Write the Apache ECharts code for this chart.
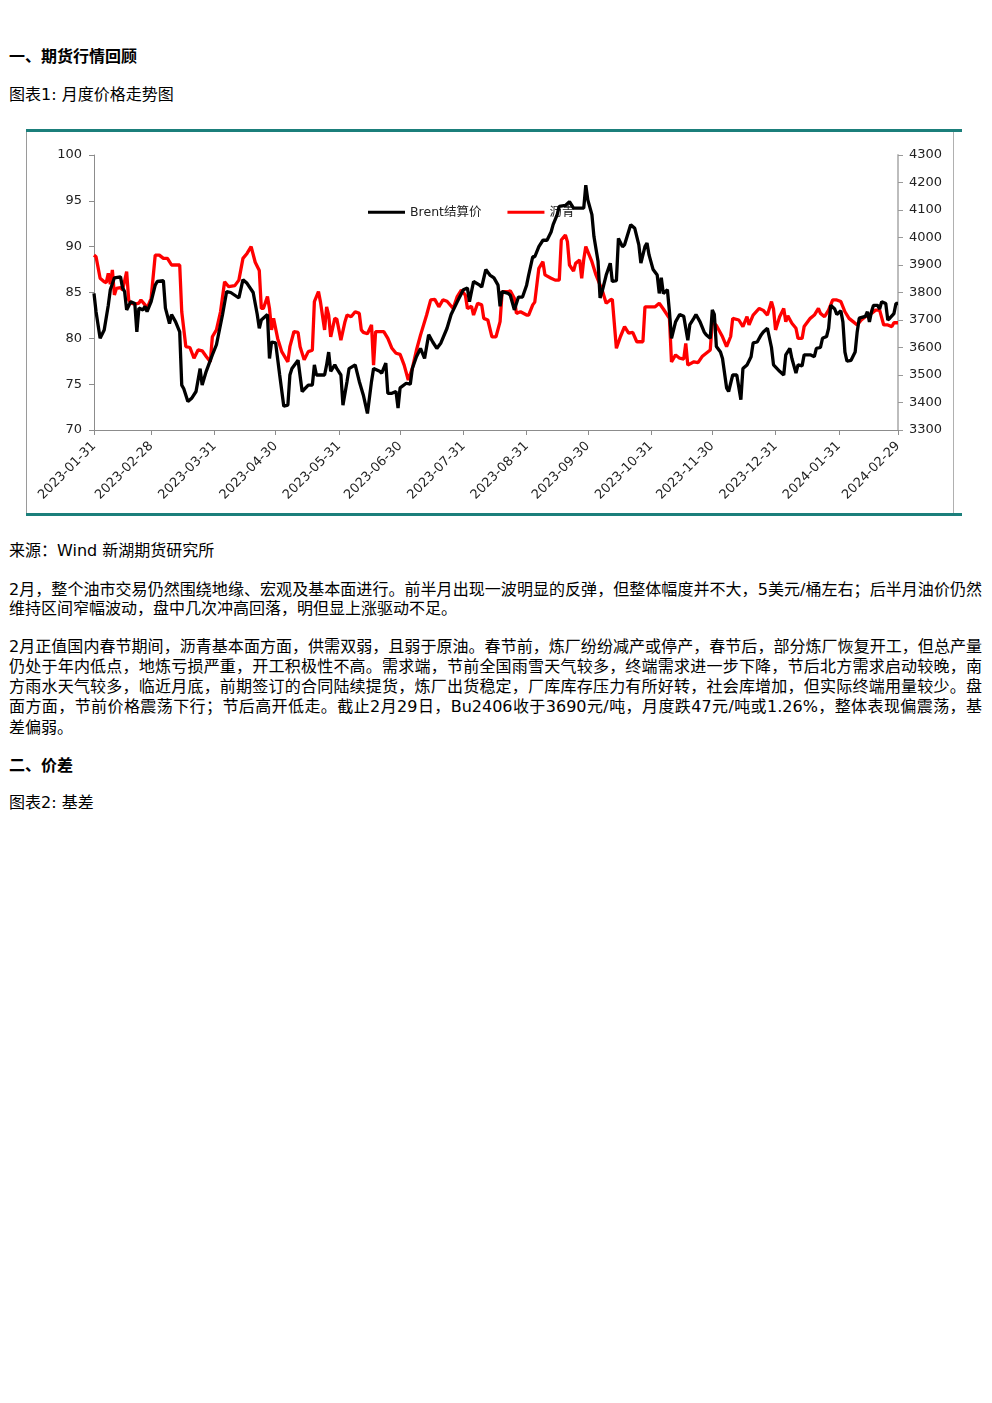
<!DOCTYPE html>
<html><head><meta charset="utf-8">
<script src="https://cdn.jsdelivr.net/npm/echarts@6/dist/echarts.min.js"></script>
<style>
body{margin:0;background:#fff;}
#page{position:relative;width:992px;height:1403px;font-family:"DejaVu Sans","Noto Sans CJK SC",sans-serif;color:#000;}
.t{position:absolute;left:9px;font-size:16px;line-height:20px;white-space:nowrap;}
.j{position:absolute;left:9px;width:973px;font-size:16px;line-height:20px;text-align:justify;text-align-last:justify;}
.b{font-weight:bold;}
#box{position:absolute;left:26px;top:129px;width:936px;height:381px;border-top:3px solid #1b7f7b;border-bottom:3px solid #1b7f7b;}
#lb{position:absolute;left:26px;top:132px;width:1px;height:381px;background:#9a9a9a;}
#rb{position:absolute;left:953px;top:132px;width:1px;height:381px;background:#b0b0b0;}
#chart{position:absolute;left:27px;top:132px;width:926px;height:381px;}
</style></head>
<body><div id="page">
<div class="t b" style="top:47px">一、期货行情回顾</div>
<div class="t" style="top:85px">图表1: 月度价格走势图</div>
<div id="box"></div><div id="lb"></div><div id="rb"></div>
<div id="chart"></div>
<div class="t" style="top:541px">来源：Wind 新湖期货研究所</div>
<div class="j" style="top:580px">2月，整个油市交易仍然围绕地缘、宏观及基本面进行。前半月出现一波明显的反弹，但整体幅度并不大，5美元/桶左右；后半月油价仍然</div>
<div class="t" style="top:599px">维持区间窄幅波动，盘中几次冲高回落，明但显上涨驱动不足。</div>
<div class="j" style="top:637px">2月正值国内春节期间，沥青基本面方面，供需双弱，且弱于原油。春节前，炼厂纷纷减产或停产，春节后，部分炼厂恢复开工，但总产量</div>
<div class="j" style="top:657px">仍处于年内低点，地炼亏损严重，开工积极性不高。需求端，节前全国雨雪天气较多，终端需求进一步下降，节后北方需求启动较晚，南</div>
<div class="j" style="top:677px">方雨水天气较多，临近月底，前期签订的合同陆续提货，炼厂出货稳定，厂库库存压力有所好转，社会库增加，但实际终端用量较少。盘</div>
<div class="j" style="top:697px">面方面，节前价格震荡下行；节后高开低走。截止2月29日，Bu2406收于3690元/吨，月度跌47元/吨或1.26%，整体表现偏震荡，基</div>
<div class="t" style="top:718px">差偏弱。</div>
<div class="t b" style="top:756px">二、价差</div>
<div class="t" style="top:793px">图表2: 基差</div>
</div>
<script>
const seriesNames = ['Brent结算价', '沥青'];
const xTickLabels = ['2023-01-31','2023-02-28','2023-03-31','2023-04-30','2023-05-31','2023-06-30','2023-07-31','2023-08-31','2023-09-30','2023-10-31','2023-11-30','2023-12-31','2024-01-31','2024-02-29'];
const leftTicks = [70, 100, 5];
const rightTicks = [3300, 4300, 100];

const brentDates = ['2023-01-31','2023-02-01','2023-02-03','2023-02-05','2023-02-07','2023-02-08','2023-02-10','2023-02-13','2023-02-14','2023-02-15','2023-02-16','2023-02-18','2023-02-20','2023-02-21','2023-02-22','2023-02-24','2023-02-25','2023-02-26','2023-02-28',
'2023-03-02','2023-03-03','2023-03-06','2023-03-07','2023-03-09','2023-03-10','2023-03-12','2023-03-14','2023-03-15','2023-03-16','2023-03-18','2023-03-20','2023-03-22','2023-03-24','2023-03-25','2023-03-27','2023-03-30',
'2023-04-01','2023-04-04','2023-04-06','2023-04-08','2023-04-12','2023-04-14','2023-04-16','2023-04-19','2023-04-21','2023-04-22','2023-04-23','2023-04-26','2023-04-27','2023-04-28','2023-04-30',
'2023-05-02','2023-05-04','2023-05-06','2023-05-07','2023-05-08','2023-05-11','2023-05-13','2023-05-16','2023-05-18','2023-05-19','2023-05-20','2023-05-24','2023-05-25','2023-05-26','2023-05-27','2023-05-29','2023-05-30',
'2023-06-01','2023-06-02','2023-06-04','2023-06-05','2023-06-08','2023-06-10','2023-06-12','2023-06-14','2023-06-16','2023-06-17','2023-06-20','2023-06-21','2023-06-23','2023-06-24','2023-06-26','2023-06-28','2023-06-29','2023-06-30',
'2023-07-03','2023-07-05','2023-07-06','2023-07-08','2023-07-10','2023-07-12','2023-07-14','2023-07-16','2023-07-18','2023-07-20','2023-07-23','2023-07-25','2023-07-28','2023-07-31',
'2023-08-02','2023-08-03','2023-08-05','2023-08-08','2023-08-09','2023-08-11','2023-08-13','2023-08-15','2023-08-17','2023-08-18','2023-08-19','2023-08-22','2023-08-23','2023-08-25','2023-08-27','2023-08-29','2023-08-31',
'2023-09-01','2023-09-03','2023-09-04','2023-09-06','2023-09-08','2023-09-10','2023-09-12','2023-09-13','2023-09-15','2023-09-16','2023-09-19','2023-09-21','2023-09-23','2023-09-26','2023-09-28','2023-09-29','2023-09-30',
'2023-10-02','2023-10-03','2023-10-05','2023-10-06','2023-10-07','2023-10-09','2023-10-11','2023-10-12','2023-10-14','2023-10-15','2023-10-17','2023-10-18','2023-10-21','2023-10-23','2023-10-25','2023-10-26','2023-10-28','2023-10-29','2023-10-30',
'2023-11-01','2023-11-03','2023-11-04','2023-11-05','2023-11-06','2023-11-08','2023-11-09','2023-11-10','2023-11-12','2023-11-14','2023-11-16','2023-11-18','2023-11-19','2023-11-21','2023-11-22','2023-11-24','2023-11-26','2023-11-27','2023-11-29','2023-11-30',
'2023-12-01','2023-12-02','2023-12-04','2023-12-05','2023-12-07','2023-12-08','2023-12-10','2023-12-12','2023-12-14','2023-12-15','2023-12-17','2023-12-19','2023-12-20','2023-12-22','2023-12-24','2023-12-25','2023-12-27','2023-12-29','2023-12-30',
'2024-01-02','2024-01-04','2024-01-05','2024-01-07','2024-01-08','2024-01-10','2024-01-11','2024-01-13','2024-01-14','2024-01-17','2024-01-19','2024-01-20','2024-01-22','2024-01-23','2024-01-25','2024-01-26','2024-01-27','2024-01-29','2024-01-30',
'2024-02-01','2024-02-02','2024-02-03','2024-02-04','2024-02-06','2024-02-08','2024-02-09','2024-02-10','2024-02-13','2024-02-14','2024-02-15','2024-02-16','2024-02-17','2024-02-19','2024-02-20','2024-02-21','2024-02-23','2024-02-24','2024-02-25','2024-02-27','2024-02-28','2024-02-29'];
const brentValues = [84.9,82.9,80.0,80.9,83.6,85.3,86.6,86.7,85.5,85.1,83.1,84.0,83.8,80.7,83.3,83.1,83.5,82.9,84.0,
85.8,86.2,86.3,83.3,81.6,82.6,81.8,80.7,74.9,74.5,73.1,73.5,74.2,76.7,74.9,76.4,78.2,
79.3,82.6,85.1,85.0,84.4,86.4,86.0,85.0,82.6,81.1,82.0,82.6,77.8,79.6,79.5,
76.0,72.6,72.7,76.0,76.7,77.6,74.2,74.9,74.9,77.1,76.0,76.0,77.1,78.5,76.4,77.1,76.7,
76.0,72.7,75.3,76.7,77.1,75.3,73.8,71.8,75.3,76.7,76.4,76.2,77.3,74.0,74.0,74.2,72.4,74.6,
75.1,75.0,76.7,78.0,78.9,77.8,80.4,79.6,78.9,79.5,81.1,82.6,84.0,85.3,
85.5,84.0,86.2,85.8,85.6,87.5,86.9,86.6,85.8,83.5,85.1,84.9,84.7,83.1,84.5,84.5,85.8,
86.9,88.9,88.9,90.0,90.7,90.7,91.6,92.4,93.5,94.4,94.5,94.9,94.2,94.2,94.2,96.7,95.1,
93.5,91.1,88.4,84.4,85.1,86.9,88.2,86.2,86.3,90.9,90.0,90.2,92.4,92.0,90.2,88.2,90.0,90.4,89.1,
87.5,86.9,84.9,86.6,84.9,85.3,82.9,80.0,81.8,82.6,82.4,79.8,81.5,82.2,82.6,81.8,80.7,80.4,80.0,83.1,
82.6,79.1,78.5,77.8,74.6,74.2,76.0,76.0,73.3,76.7,77.1,78.0,79.5,79.6,80.4,80.7,81.1,79.0,77.1,
76.4,76.0,78.2,78.9,77.8,76.2,77.1,77.0,78.2,78.2,78.0,78.9,79.0,80.0,80.2,81.1,83.6,83.2,82.6,
83.0,81.8,78.5,77.5,77.6,78.5,80.7,82.2,82.4,82.9,81.8,82.9,83.6,83.6,83.2,84.0,83.8,82.0,82.2,82.7,83.8,83.8];

const asphaltDates = ['2023-01-31','2023-02-01','2023-02-03','2023-02-05','2023-02-06','2023-02-07','2023-02-08','2023-02-09','2023-02-10','2023-02-11','2023-02-13','2023-02-14','2023-02-16','2023-02-17','2023-02-18','2023-02-20','2023-02-22','2023-02-23','2023-02-25','2023-02-26','2023-02-28',
'2023-03-02','2023-03-04','2023-03-06','2023-03-08','2023-03-10','2023-03-12','2023-03-14','2023-03-15','2023-03-17','2023-03-19','2023-03-21','2023-03-23','2023-03-25','2023-03-27','2023-03-29','2023-03-30',
'2023-04-01','2023-04-03','2023-04-05','2023-04-07','2023-04-10','2023-04-12','2023-04-14','2023-04-16','2023-04-18','2023-04-20','2023-04-22','2023-04-23','2023-04-24','2023-04-26','2023-04-27','2023-04-28','2023-04-29',
'2023-05-01','2023-05-03','2023-05-06','2023-05-07','2023-05-09','2023-05-11','2023-05-12','2023-05-14','2023-05-16','2023-05-18','2023-05-19','2023-05-21','2023-05-22','2023-05-24','2023-05-25','2023-05-26','2023-05-27','2023-05-29','2023-05-30',
'2023-06-01','2023-06-03','2023-06-04','2023-06-06','2023-06-08','2023-06-10','2023-06-11','2023-06-12','2023-06-14','2023-06-16','2023-06-17','2023-06-18','2023-06-20','2023-06-22','2023-06-24','2023-06-26','2023-06-28','2023-06-30',
'2023-07-02','2023-07-04','2023-07-06','2023-07-08','2023-07-10','2023-07-13','2023-07-15','2023-07-17','2023-07-19','2023-07-21','2023-07-23','2023-07-26','2023-07-28','2023-07-30',
'2023-08-01','2023-08-02','2023-08-04','2023-08-05','2023-08-07','2023-08-09','2023-08-10','2023-08-12','2023-08-14','2023-08-16','2023-08-18','2023-08-19','2023-08-22','2023-08-23','2023-08-25','2023-08-26','2023-08-28','2023-08-31',
'2023-09-01','2023-09-03','2023-09-04','2023-09-06','2023-09-08','2023-09-09','2023-09-12','2023-09-14','2023-09-16','2023-09-17','2023-09-19','2023-09-20','2023-09-21','2023-09-23','2023-09-24','2023-09-26','2023-09-27','2023-09-28','2023-09-29',
'2023-10-02','2023-10-04','2023-10-07','2023-10-09','2023-10-11','2023-10-12','2023-10-14','2023-10-16','2023-10-18','2023-10-20','2023-10-22','2023-10-24','2023-10-27','2023-10-28','2023-10-31',
'2023-11-02','2023-11-04','2023-11-06','2023-11-09','2023-11-10','2023-11-12','2023-11-14','2023-11-16','2023-11-17','2023-11-18','2023-11-21','2023-11-23','2023-11-25','2023-11-27','2023-11-29','2023-11-30',
'2023-12-02','2023-12-05','2023-12-07','2023-12-09','2023-12-10','2023-12-13','2023-12-15','2023-12-17','2023-12-18','2023-12-20','2023-12-23','2023-12-25','2023-12-27','2023-12-29','2023-12-30','2023-12-31',
'2024-01-02','2024-01-04','2024-01-05','2024-01-06','2024-01-08','2024-01-10','2024-01-11','2024-01-13','2024-01-14','2024-01-17','2024-01-19','2024-01-21','2024-01-22','2024-01-24','2024-01-26','2024-01-28','2024-01-30',
'2024-02-01','2024-02-03','2024-02-05','2024-02-07','2024-02-09','2024-02-11','2024-02-13','2024-02-16','2024-02-18','2024-02-20','2024-02-22','2024-02-24','2024-02-26','2024-02-27','2024-02-29'];
const asphaltValues = [3936,3930,3852,3839,3836,3870,3830,3882,3791,3815,3818,3809,3876,3773,3761,3758,3761,3773,3755,3742,3779,
3936,3936,3924,3924,3900,3900,3900,3730,3603,3600,3561,3591,3588,3567,3548,3639,
3664,3730,3839,3821,3825,3845,3924,3942,3967,3910,3880,3742,3742,3785,3742,3664,3706,
3633,3585,3548,3603,3658,3655,3603,3555,3585,3590,3767,3803,3765,3664,3748,3718,3639,3706,3703,
3627,3694,3718,3712,3730,3724,3664,3655,3650,3682,3536,3658,3658,3658,3633,3597,3579,3575,
3536,3482,3524,3590,3645,3718,3773,3775,3748,3773,3768,3742,3785,3809,
3790,3742,3750,3718,3761,3755,3706,3700,3639,3639,3694,3803,3803,3806,3779,3724,3730,3718,
3718,3755,3765,3888,3912,3864,3852,3845,3845,3991,4009,3985,3900,3878,3906,3918,3852,3920,3967,
3912,3864,3809,3761,3773,3775,3597,3640,3676,3652,3655,3621,3621,3748,3748,
3748,3761,3740,3706,3548,3573,3561,3558,3615,3536,3548,3545,3567,3579,3591,3694,
3680,3639,3603,3640,3706,3700,3676,3712,3682,3718,3742,3735,3718,3767,3740,3664,
3712,3742,3694,3715,3688,3670,3633,3633,3676,3706,3718,3742,3724,3712,3736,3773,3773,
3767,3730,3706,3694,3682,3700,3712,3724,3736,3736,3682,3682,3676,3690,3690];

const toTs = d => Date.parse(d);
const fmt = v => new Date(v).toISOString().slice(0, 10);
const tickTs = xTickLabels.map(toTs);
const brentData = brentDates.map((d, i) => [toTs(d), brentValues[i]]);
const asphaltData = asphaltDates.map((d, i) => [toTs(d), asphaltValues[i]]);

const chart = echarts.init(document.getElementById('chart'), null, {renderer: 'canvas'});
const font = '"DejaVu Sans","Noto Sans CJK SC",sans-serif';
chart.setOption({
  animation: false,
  textStyle: {fontFamily: font},
  legend: {
    left: 336, top: 69, z: 1, icon: 'rect', itemWidth: 37, itemHeight: 3, itemGap: 26,
    textStyle: {fontSize: 12.5, color: '#222', fontFamily: font, width: 88, overflow: 'none'},
    data: seriesNames
  },
  grid: {left: 67, right: 55, top: 23, bottom: 83, outerBoundsMode: 'none'},
  xAxis: {
    type: 'value', min: tickTs[0], max: tickTs[tickTs.length - 1],
    axisLine: {lineStyle: {color: '#8c8c8c', width: 1}},
    axisTick: {show: true, customValues: tickTs, length: 5, lineStyle: {color: '#8c8c8c'}},
    axisLabel: {customValues: tickTs, rotate: 45, formatter: fmt, fontSize: 13, color: '#222', margin: 14, fontFamily: font, hideOverlap: false},
    splitLine: {show: false}
  },
  yAxis: [{
    type: 'value', position: 'left', min: leftTicks[0], max: leftTicks[1], interval: leftTicks[2],
    axisLine: {show: true, lineStyle: {color: '#8c8c8c', width: 1}},
    axisTick: {show: true, length: 5, lineStyle: {color: '#8c8c8c'}},
    axisLabel: {fontSize: 13, color: '#222', margin: 12, fontFamily: font, formatter: v => String(v)},
    splitLine: {show: false}
  }, {
    type: 'value', position: 'right', min: rightTicks[0], max: rightTicks[1], interval: rightTicks[2],
    axisLine: {show: true, lineStyle: {color: '#bdbdbd', width: 2}},
    axisTick: {show: true, length: 5, lineStyle: {color: '#999'}},
    axisLabel: {fontSize: 13, color: '#222', margin: 11, fontFamily: font, formatter: v => String(v)},
    splitLine: {show: false}
  }],
  series: [{
    name: seriesNames[0], type: 'line', yAxisIndex: 0, data: brentData, showSymbol: false, symbol: 'none',
    lineStyle: {color: '#000', width: 3.3}, itemStyle: {color: '#000'}, z: 4
  }, {
    name: seriesNames[1], type: 'line', yAxisIndex: 1, data: asphaltData, showSymbol: false, symbol: 'none',
    lineStyle: {color: '#ff0000', width: 3.3}, itemStyle: {color: '#ff0000'}, z: 3
  }]
});
</script>
</body></html>
